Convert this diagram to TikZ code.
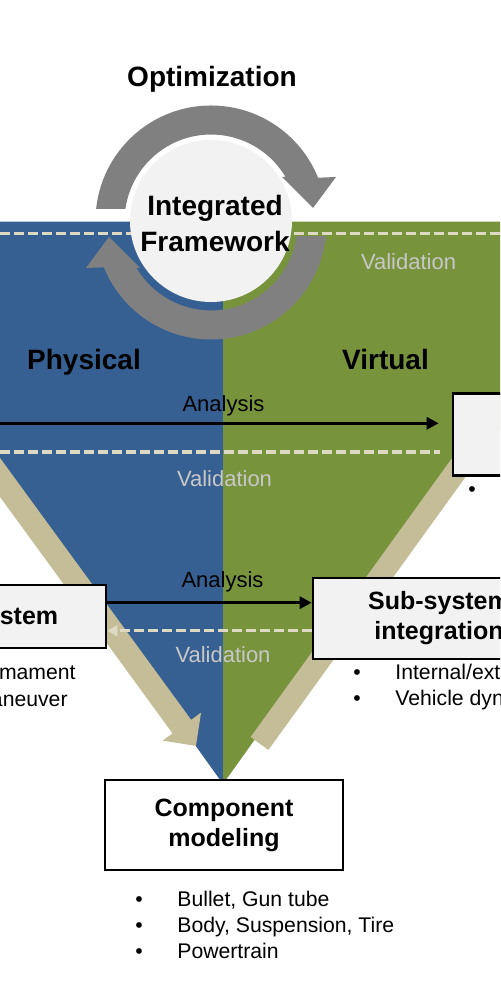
\documentclass[tikz,border=0pt]{standalone}
\usepackage{fontspec}
\setmainfont{Liberation Sans}
\usetikzlibrary{arrows.meta,calc,positioning}
\definecolor{physblue}{HTML}{376092}
\definecolor{virtgreen}{HTML}{77933C}
\definecolor{tanband}{HTML}{C4BD97}
\definecolor{dashcream}{HTML}{DDD9C3}
\definecolor{valtext}{HTML}{C8C8C8}
\definecolor{loopgray}{HTML}{808080}
\definecolor{boxgray}{HTML}{F2F2F2}

\begin{document}
\begin{tikzpicture}[x=.5pt,y=.5pt,
  stagebox/.style={draw=black,line width=1.35pt,fill=boxgray,inner sep=0pt,align=center,font=\bfseries\fontsize{12.5}{15}\selectfont},
  heading/.style={font=\bfseries\fontsize{14}{17.75}\selectfont,inner sep=0pt,anchor=base},
  flowlabel/.style={font=\fontsize{11}{13}\selectfont,inner sep=0pt,anchor=base},
  itemtext/.style={font=\fontsize{10.6}{13}\selectfont,inner sep=0pt,anchor=base west},
  bulletdot/.style={font=\fontsize{10.6}{13}\selectfont,inner sep=0pt,anchor=base},
  analysis/.style={draw=black,line width=1.5pt,-{Triangle[length=6pt,width=6pt]}},
  validline/.style={draw=dashcream,line width=1.6pt,dash pattern=on 5pt off 2pt}]
  \useasboundingbox (0,0) rectangle (500,1000);
  \clip (0,0) rectangle (500,1000);
  \fill[physblue] (-179,778.3) -- (223,778.3) -- (223,216) -- cycle;
  \fill[virtgreen] (223,778.3) -- (625,778.3) -- (223,216) -- cycle;
  \draw[tanband,line width=11.5pt,-{Triangle[length=12pt,width=23pt]}] (-93,650) -- (196,254);
  \draw[tanband,line width=11pt] (259.5,256.5) -- (522,620);
  \draw[validline] (0,766.5) -- (500,766.5);
  \draw[validline] (0,548) -- (440,548);
  \fill[loopgray] (96.13,791.07) arc[start angle=174,end angle=22,radius=115.5]
    -- (336,823) -- (313,792) -- (282,823) -- (285.5,823)
    arc[start angle=30.6,end angle=172,radius=86.5] -- cycle;
  \fill[loopgray,rotate around={180:(211,777.5)}] (96.13,791.07) arc[start angle=174,end angle=22,radius=115.5]
    -- (336,823) -- (313,792) -- (282,823) -- (285.5,823)
    arc[start angle=30.6,end angle=172,radius=86.5] -- cycle;
  \node[circle,fill=boxgray,minimum size=81pt,inner sep=0pt] (hub) at (211,779) {};
  \node[heading,anchor=center,align=center] (hubtext) at (215,776.5) {Integrated\\Framework};
  \node[heading] (optlabel) at (212,913.5) {Optimization};
  \node[heading] (phys) at (84,630) {Physical};
  \node[heading] (virt) at (385.5,630) {Virtual};
  \node[stagebox,minimum width=100pt,minimum height=41.2pt] (rtop) at (553,565.5) {};
  \node[stagebox,minimum width=77pt,minimum height=31.5pt] (sys) at (29,383.5) {stem};
  \node[stagebox,minimum width=126pt,minimum height=40.5pt] (sub) at (439,381.5) {Sub-system\\integration};
  \node[stagebox,fill=white,minimum width=119pt,minimum height=45pt] (comp) at (224,175) {Component\\modeling};
  \coordinate (anastart) at (-10,576.7);
  \draw[analysis,shorten >=6.5pt] (anastart) -- (anastart -| rtop.west);
  \draw[analysis] ([yshift=6.9pt]sys.east) -- ([yshift=6.9pt]sys.east -| sub.west);
  \draw[validline,-{Triangle[length=5pt,width=5.5pt]}] ([yshift=-6.1pt]sub.west) -- ([yshift=-6.1pt]sub.west -| sys.east);
  \node[flowlabel] (ana1) at (223.5,588.5) {Analysis};
  \node[flowlabel] (ana2) at (222.5,412) {Analysis};
  \node[flowlabel,valtext] (val1) at (224.5,513.5) {Validation};
  \node[flowlabel,valtext] (val2) at (223,337.5) {Validation};
  \node[flowlabel,valtext] (val3) at (408.5,730) {Validation};
  \node[bulletdot] (rb1) at (472,503) {•};
  \node[itemtext,anchor=base east] (sl1) at (76,320) {mament};
  \node[itemtext,anchor=base east] (sl2) at (68,293.5) {aneuver};
  \node[bulletdot] (sb1) at (357,320) {•};
  \node[bulletdot] (sb2) at (357,294.5) {•};
  \node[itemtext] (si1) at (395,320) {Internal/ext};
  \node[itemtext] (si2) at (395,294.5) {Vehicle dyn};
  \node[bulletdot] (cb1) at (139,93) {•};
  \node[bulletdot] (cb2) at (139,67) {•};
  \node[bulletdot] (cb3) at (139,41) {•};
  \node[itemtext] (ci1) at (177,93) {Bullet, Gun tube};
  \node[itemtext] (ci2) at (177,67) {Body, Suspension, Tire};
  \node[itemtext] (ci3) at (177,41) {Powertrain};
\end{tikzpicture}
\end{document}
